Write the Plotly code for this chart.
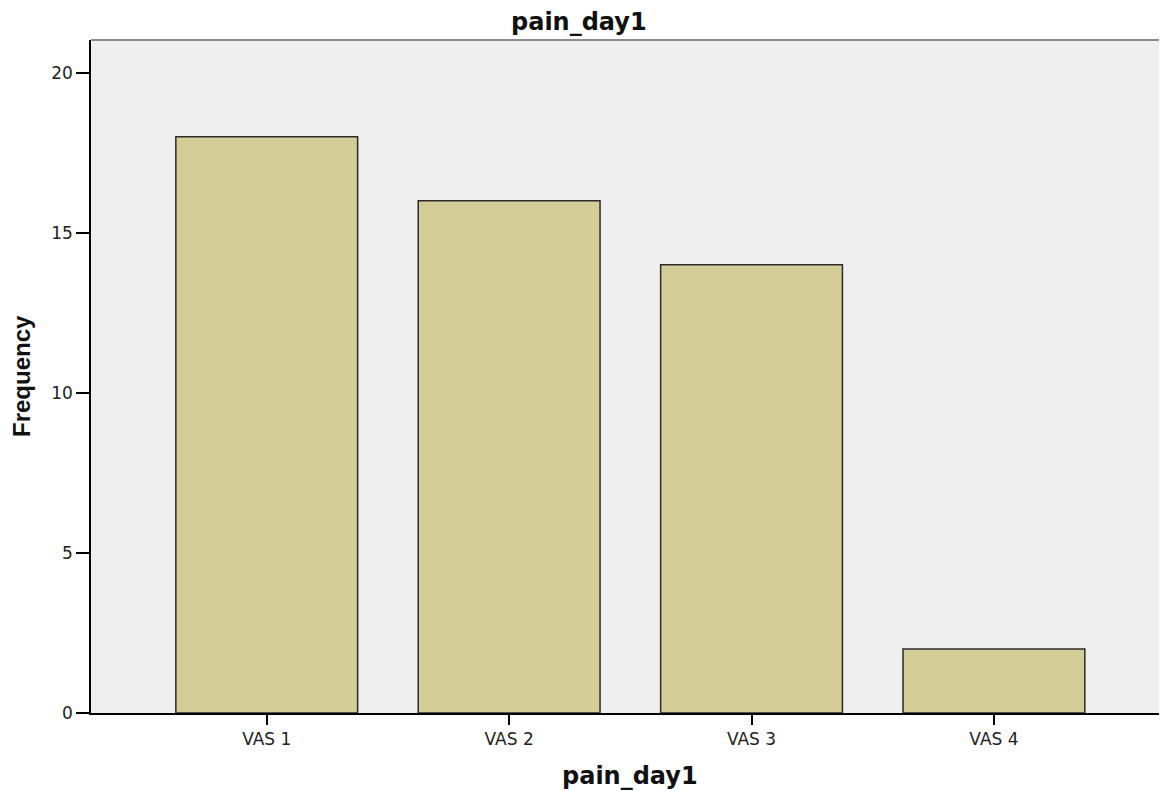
import plotly.graph_objects as go

categories = ["VAS 1", "VAS 2", "VAS 3", "VAS 4"]
frequency = [18, 16, 14, 2]
y_ticks = [0, 5, 10, 15, 20]

# The page body has an 8px default margin; lay out in page pixels minus it.
OFF = 8
PAGE_W, PAGE_H = 1167, 791
W, H = PAGE_W - OFF, PAGE_H - OFF
PLOT_L, PLOT_T, PLOT_B, PLOT_R = 91, 40, 713, 1167  # page pixels
ML = PLOT_L - OFF
MT = PLOT_T - OFF
MB = H - (PLOT_B - OFF)
MR = W - (PLOT_R - OFF)
plot_w = W - ML - MR
plot_h = H - MT - MB


def px_x(page_x):
    return (page_x - PLOT_L) / plot_w


def px_y(page_y):
    return (PLOT_B - page_y) / plot_h


fig = go.Figure()
fig.add_trace(go.Bar(
    x=categories, y=frequency, width=0.75,
    marker=dict(color="#D3CE98", line=dict(color="#2a2a2a", width=1.5)),
    hoverinfo="x+y",
))

tick_font = dict(family="DejaVu Sans, sans-serif", size=17, color="#222222")
title_font = dict(family="DejaVu Sans, sans-serif", size=24, color="#111111")
ytitle_font = dict(family="Liberation Sans, Arial, sans-serif", size=24, color="#111111")

fig.update_layout(
    width=W, height=H,
    margin=dict(l=ML, r=MR, t=MT, b=MB, autoexpand=False),
    paper_bgcolor="white", plot_bgcolor="#EFEFEF",
    showlegend=False,
    xaxis=dict(
        type="category", range=[-0.725, 3.714],
        showline=True, linecolor="black", linewidth=1.5,
        ticks="outside", ticklen=10, tickcolor="black", tickwidth=1.5,
        tickfont=tick_font, showgrid=False, zeroline=False, fixedrange=True,
    ),
    yaxis=dict(
        range=[0, 21.02], tickvals=y_ticks,
        showline=True, linecolor="black", linewidth=1.5,
        ticks="outside", ticklen=13, tickcolor="black", tickwidth=1.5,
        tickfont=tick_font, showgrid=False, zeroline=False, fixedrange=True,
    ),
    shapes=[dict(type="line", xref="paper", yref="paper", x0=0, x1=1, y0=1, y1=1,
                 line=dict(color="#8c8c8c", width=2))],
    annotations=[
        dict(text="<b>pain_day1</b>", xref="paper", yref="paper",
             x=px_x(579), y=px_y(22), borderpad=0,
             xanchor="center", yanchor="middle", showarrow=False, font=title_font),
        dict(text="<b>pain_day1</b>", xref="paper", yref="paper",
             x=px_x(630), y=px_y(776), borderpad=0,
             xanchor="center", yanchor="middle", showarrow=False, font=title_font),
        dict(text="<b>Frequency</b>", xref="paper", yref="paper",
             x=px_x(21), y=px_y(376),
             xanchor="center", yanchor="middle", textangle=-90, showarrow=False,
             font=ytitle_font),
    ],
)

fig.write_html("out.html")
